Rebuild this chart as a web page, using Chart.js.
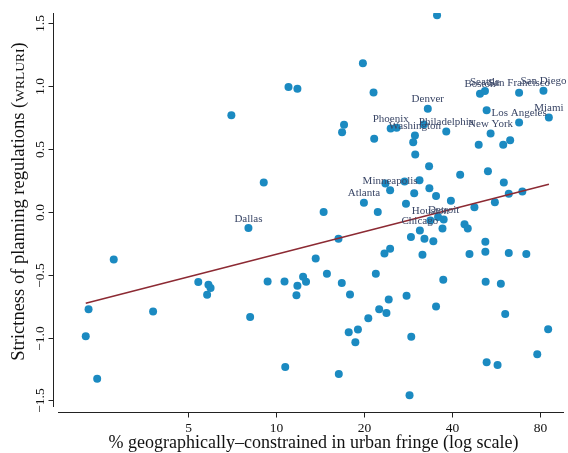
<!DOCTYPE html>
<html>
<head>
<meta charset="utf-8">
<script src="https://cdn.jsdelivr.net/npm/chart.js@4/dist/chart.umd.min.js"></script>
<style>
  html, body { margin: 0; padding: 0; background: #fff; }
  canvas { display: block; }
</style>
</head>
<body>
<canvas id="c" width="568" height="453"></canvas>
<script>
// Metro areas: share of the urban fringe that is geographically constrained (%)
const pctConstrained = [
  2.23, 2.28, 2.44, 2.78, 3.79, 5.41, 5.86, 5.96, 5.80, 8.03,
  8.14, 7.02, 9.06, 11.01, 11.81, 9.34, 10.67, 12.35, 12.64, 11.81,
  11.72, 10.73, 13.64, 14.52, 14.90, 16.32, 16.75, 17.87, 16.36, 17.05,
  16.79, 17.69, 18.64, 19.02, 20.64, 19.78, 19.94, 21.51, 21.62, 22.24,
  21.90, 22.49, 23.81, 24.24, 23.44, 24.51, 23.62, 24.51, 24.62, 25.80,
  27.47, 27.77, 27.90, 28.56, 28.88, 28.95, 29.80, 29.40, 29.87, 29.63,
  30.89, 30.98, 31.62, 32.12, 31.96, 32.98, 33.31, 33.39, 33.66, 34.45,
  35.19, 35.19, 35.75, 35.47, 37.37, 37.02, 37.25, 38.14, 39.56, 42.55,
  44.04, 45.18, 45.79, 47.61, 49.24, 49.74, 51.73, 52.42, 51.89, 51.89,
  52.01, 52.42, 52.96, 54.08, 55.93, 57.13, 58.62, 59.73, 60.01, 60.67,
  62.40, 62.40, 63.08, 67.68, 67.68, 69.44, 71.65, 78.09, 82.0, 85.56,
  85.09
];

// Wharton Residential Land Use Regulatory Index
const wrluri = [
  -0.989, -0.774, -1.327, -0.378, -0.793, -0.558, -0.580, -0.606, -0.659, -0.128,
  -0.837, 0.770, 0.234, 0.994, 0.981, -0.553, -0.553, -0.516, -0.556, -0.588,
  -0.662, -1.234, -0.370, 0.000, -0.492, -0.213, -0.566, -0.657, -1.289, 0.694,
  0.635, -0.957, -1.037, -0.936, -0.845, 1.183, 0.074, 0.951, 0.582, 0.000,
  -0.492, -0.774, -0.805, -0.697, -0.330, -0.293, 0.226, 0.172, 0.664, 0.670,
  0.242, 0.066, -0.667, -1.459, -0.199, -0.994, 0.608, 0.555, 0.457, 0.148,
  0.252, -0.147, -0.341, -0.213, 0.696, 0.821, 0.364, 0.188, -0.069, -0.233,
  0.126, -0.753, -0.040, 1.565, -0.061, -0.131, -0.540, 0.640, 0.089, 0.296,
  -0.098, -0.131, -0.335, 0.037, 0.534, 0.941, 0.962, 0.810, -0.237, -0.317,
  -0.556, -1.196, 0.324, 0.624, 0.077, -1.218, -0.572, 0.534, 0.234, -0.813,
  0.144, -0.327, 0.571, 0.949, 0.712, 0.162, -0.335, -1.132, 0.965, 0.752,
  -0.933
];

// City names shown next to their markers (blank = unlabelled)
const cityName = [
  '', '', '', '', '', '', '', '', '', 'Dallas',
  '', '', '', '', '', '', '', '', '', '',
  '', '', '', '', '', '', '', '', '', '',
  '', '', '', '', '', '', 'Atlanta', '', '', '',
  '', '', '', '', '', '', '', 'Minneapolis', 'Phoenix', '',
  '', '', '', '', '', '', 'Washington', '', '', '',
  '', 'Chicago', '', '', '', 'Denver', '', '', 'Houston', '',
  '', '', '', '', 'Detroit', '', '', 'Philadelphia', '', '',
  '', '', '', '', '', 'Boston', 'Seattle', '', '', '',
  '', '', '', 'New York', '', '', '', '', '', '',
  '', '', '', 'San Francisco', 'Los Angeles', '', '', '', 'San Diego', 'Miami',
  ''
];

// Fitted regression line (linear in log x)
const fitX = [2.23, 85.6];
const fitY = [-0.726, 0.220];

const xTicks = [5, 10, 20, 40, 80];
const xTickLabels = ['5', '10', '20', '40', '80'];
const yTicks = [-1.5, -1.0, -0.5, 0.0, 0.5, 1.0, 1.5];
const yTickLabels = ['\u22121.5', '\u22121.0', '\u22120.5', '0.0', '0.5', '1.0', '1.5'];

const SERIF = '"Liberation Serif", "DejaVu Serif", serif';
const DOT = '#1b8ac1';
const FIT = '#8c2a33';
const LABEL = '#3a4666';

const points = pctConstrained.map((x, i) => ({ x, y: wrluri[i] }));
const fitLine = fitX.map((x, i) => ({ x, y: fitY[i] }));

// Stata-style detached axes, ticks, titles and marker labels
const decorations = {
  id: 'decorations',
  afterDatasetsDraw(chart) {
    const { ctx, chartArea: a, scales: { x, y } } = chart;
    ctx.save();

    // marker labels centred above each named city
    const meta = chart.getDatasetMeta(1);
    ctx.fillStyle = LABEL;
    ctx.font = '11px ' + SERIF;
    ctx.textAlign = 'center';
    ctx.textBaseline = 'alphabetic';
    cityName.forEach((name, i) => {
      if (!name) return;
      const el = meta.data[i];
      ctx.fillText(name, el.x, el.y - 6.5);
    });

    ctx.strokeStyle = '#222';
    ctx.fillStyle = '#111';
    ctx.lineWidth = 1;

    // y axis
    const yx = Math.round(a.left) + 0.5;
    ctx.beginPath();
    ctx.moveTo(yx, a.top);
    ctx.lineTo(yx, a.bottom - 5);
    ctx.stroke();
    ctx.font = '13.5px ' + SERIF;
    yTicks.forEach((v, i) => {
      const py = Math.round(y.getPixelForValue(v)) + 0.5;
      ctx.beginPath();
      ctx.moveTo(yx - 5, py);
      ctx.lineTo(yx, py);
      ctx.stroke();
      ctx.save();
      ctx.translate(yx - 10, py);
      ctx.rotate(-Math.PI / 2);
      ctx.textAlign = 'center';
      ctx.textBaseline = 'alphabetic';
      ctx.fillText(yTickLabels[i], 0, 0);
      ctx.restore();
    });

    // x axis
    const xy = Math.round(a.bottom) + 0.5;
    ctx.beginPath();
    ctx.moveTo(a.left + 5, xy);
    ctx.lineTo(a.right, xy);
    ctx.stroke();
    ctx.textAlign = 'center';
    ctx.textBaseline = 'alphabetic';
    xTicks.forEach((v, i) => {
      const px = Math.round(x.getPixelForValue(v)) + 0.5;
      ctx.beginPath();
      ctx.moveTo(px, xy);
      ctx.lineTo(px, xy + 5);
      ctx.stroke();
      ctx.fillText(xTickLabels[i], px, xy + 19);
    });

    // x title
    ctx.font = '18px ' + SERIF;
    ctx.fillText('% geographically\u2013constrained in urban fringe (log scale)', (a.left + a.right) / 2 + 5, 448);

    // y title with small-caps index name
    const big = '18.5px ' + SERIF, small = '13.5px ' + SERIF;
    const parts = [
      ['Strictness of planning regulations (', big],
      ['WRLURI', small],
      [')', big]
    ];
    let total = 0;
    parts.forEach(p => { ctx.font = p[1]; total += ctx.measureText(p[0]).width; });
    ctx.save();
    ctx.translate(24, (a.top + a.bottom) / 2 - 11);
    ctx.rotate(-Math.PI / 2);
    ctx.textAlign = 'left';
    let cx = -total / 2;
    parts.forEach(p => {
      ctx.font = p[1];
      ctx.fillText(p[0], cx, 0);
      cx += ctx.measureText(p[0]).width;
    });
    ctx.restore();

    ctx.restore();
  }
};

new Chart(document.getElementById('c'), {
  type: 'scatter',
  data: {
    datasets: [
      {
        type: 'line',
        data: fitLine,
        borderColor: FIT,
        borderWidth: 1.5,
        pointRadius: 0,
        fill: false,
        order: 0
      },
      {
        data: points,
        backgroundColor: DOT,
        borderWidth: 0,
        pointRadius: 4,
        order: 1
      }
    ]
  },
  options: {
    responsive: false,
    animation: false,
    devicePixelRatio: 1,
    layout: { padding: { top: 13, right: 0, left: 0, bottom: 0 } },
    plugins: { legend: { display: false }, tooltip: { enabled: false } },
    scales: {
      x: {
        type: 'logarithmic',
        min: 1.723,
        max: 96.4,
        ticks: { display: false },
        grid: { display: false },
        border: { display: false },
        afterFit: s => { s.height = 41; }
      },
      y: {
        type: 'linear',
        min: -1.592,
        max: 1.583,
        ticks: { display: false },
        grid: { display: false },
        border: { display: false },
        afterFit: s => { s.width = 53; }
      }
    }
  },
  plugins: [decorations]
});
</script>
</body>
</html>
